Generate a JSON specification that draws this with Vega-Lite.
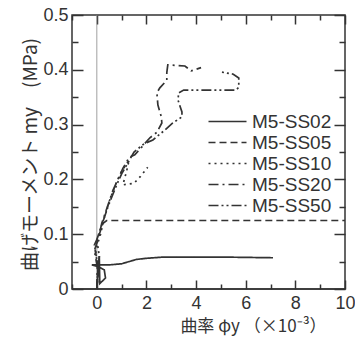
{
  "$schema": "https://vega.github.io/schema/vega-lite/v6.json",
  "width": 273,
  "height": 274,
  "autosize": "none",
  "padding": {"left": 72, "top": 15, "right": 10, "bottom": 55},
  "background": "white",
  "config": {
    "view": {"stroke": "#333", "strokeWidth": 1.5},
    "font": "Liberation Sans"
  },
  "layer": [
    {
      "data": {"values": [{}]},
      "mark": {"type": "rule", "color": "#888", "strokeWidth": 0.8},
      "encoding": {
        "x": {
          "datum": 0, "type": "quantitative",
          "scale": {"domain": [-1, 10], "nice": false, "zero": false},
          "axis": {
            "orient": "top", "values": [-1,0,1,2,3,4,5,6,7,8,9,10],
            "labels": false, "title": null, "domain": false, "grid": false,
            "tickColor": "#333", "tickWidth": 1.5,
            "tickSize": {"condition": {"test": "datum.value % 2 === 0", "value": -9}, "value": -5}
          }
        }
      }
    },
    {
      "data": {"values": [
        {"s":"M5-SS02","o":1,"x":0,"y":0},
        {"s":"M5-SS02","o":2,"x":0.1,"y":0.06},
        {"s":"M5-SS02","o":3,"x":0.12,"y":0.01},
        {"s":"M5-SS02","o":4,"x":0.35,"y":0.02},
        {"s":"M5-SS02","o":5,"x":0.3,"y":0.035},
        {"s":"M5-SS02","o":6,"x":0.1,"y":0.04},
        {"s":"M5-SS02","o":7,"x":-0.2,"y":0.044},
        {"s":"M5-SS02","o":8,"x":0.5,"y":0.044},
        {"s":"M5-SS02","o":9,"x":1.0,"y":0.046},
        {"s":"M5-SS02","o":10,"x":1.3,"y":0.05},
        {"s":"M5-SS02","o":11,"x":1.6,"y":0.054},
        {"s":"M5-SS02","o":12,"x":2.0,"y":0.056},
        {"s":"M5-SS02","o":13,"x":2.6,"y":0.058},
        {"s":"M5-SS02","o":14,"x":4.0,"y":0.058},
        {"s":"M5-SS02","o":15,"x":5.5,"y":0.058},
        {"s":"M5-SS02","o":16,"x":7.1,"y":0.057},
        {"s":"M5-SS05","o":1,"x":0,"y":0},
        {"s":"M5-SS05","o":2,"x":0.05,"y":0.04},
        {"s":"M5-SS05","o":3,"x":-0.1,"y":0.08},
        {"s":"M5-SS05","o":4,"x":0.1,"y":0.1},
        {"s":"M5-SS05","o":5,"x":0.25,"y":0.12},
        {"s":"M5-SS05","o":6,"x":0.4,"y":0.125},
        {"s":"M5-SS05","o":7,"x":10,"y":0.125},
        {"s":"M5-SS10","o":1,"x":0,"y":0},
        {"s":"M5-SS10","o":2,"x":0.05,"y":0.03},
        {"s":"M5-SS10","o":3,"x":-0.05,"y":0.07},
        {"s":"M5-SS10","o":4,"x":0.15,"y":0.1},
        {"s":"M5-SS10","o":5,"x":0.3,"y":0.13},
        {"s":"M5-SS10","o":6,"x":0.5,"y":0.16},
        {"s":"M5-SS10","o":7,"x":0.75,"y":0.19},
        {"s":"M5-SS10","o":8,"x":1.0,"y":0.215},
        {"s":"M5-SS10","o":9,"x":1.3,"y":0.235},
        {"s":"M5-SS10","o":10,"x":1.2,"y":0.215},
        {"s":"M5-SS10","o":11,"x":1.05,"y":0.19},
        {"s":"M5-SS10","o":12,"x":1.5,"y":0.193},
        {"s":"M5-SS10","o":13,"x":1.75,"y":0.205},
        {"s":"M5-SS10","o":14,"x":2.05,"y":0.222},
        {"s":"M5-SS20","o":1,"x":0,"y":0},
        {"s":"M5-SS20","o":2,"x":0.02,"y":0.04},
        {"s":"M5-SS20","o":3,"x":-0.1,"y":0.07},
        {"s":"M5-SS20","o":4,"x":0.05,"y":0.09},
        {"s":"M5-SS20","o":5,"x":0.1,"y":0.1},
        {"s":"M5-SS20","o":6,"x":0.2,"y":0.12},
        {"s":"M5-SS20","o":7,"x":0.35,"y":0.14},
        {"s":"M5-SS20","o":8,"x":0.5,"y":0.16},
        {"s":"M5-SS20","o":9,"x":0.65,"y":0.18},
        {"s":"M5-SS20","o":10,"x":0.85,"y":0.2},
        {"s":"M5-SS20","o":11,"x":1.05,"y":0.22},
        {"s":"M5-SS20","o":12,"x":1.3,"y":0.24},
        {"s":"M5-SS20","o":13,"x":1.53,"y":0.245},
        {"s":"M5-SS20","o":14,"x":1.81,"y":0.259},
        {"s":"M5-SS20","o":15,"x":2.14,"y":0.276},
        {"s":"M5-SS20","o":16,"x":2.42,"y":0.286},
        {"s":"M5-SS20","o":17,"x":2.62,"y":0.303},
        {"s":"M5-SS20","o":18,"x":2.6,"y":0.314},
        {"s":"M5-SS20","o":19,"x":2.46,"y":0.336},
        {"s":"M5-SS20","o":20,"x":2.42,"y":0.358},
        {"s":"M5-SS20","o":21,"x":2.54,"y":0.367},
        {"s":"M5-SS20","o":22,"x":2.82,"y":0.381},
        {"s":"M5-SS20","o":23,"x":2.82,"y":0.395},
        {"s":"M5-SS20","o":24,"x":2.86,"y":0.409},
        {"s":"M5-SS20","o":25,"x":3.55,"y":0.407},
        {"s":"M5-SS20","o":26,"x":3.8,"y":0.398},
        {"s":"M5-SS20","o":27,"x":4.2,"y":0.404},
        {"s":"M5-SS50","o":1,"x":0,"y":0},
        {"s":"M5-SS50","o":2,"x":0.05,"y":0.03},
        {"s":"M5-SS50","o":3,"x":0.1,"y":0.06},
        {"s":"M5-SS50","o":4,"x":0.0,"y":0.09},
        {"s":"M5-SS50","o":5,"x":0.15,"y":0.11},
        {"s":"M5-SS50","o":6,"x":0.3,"y":0.13},
        {"s":"M5-SS50","o":7,"x":0.45,"y":0.15},
        {"s":"M5-SS50","o":8,"x":0.62,"y":0.17},
        {"s":"M5-SS50","o":9,"x":0.8,"y":0.19},
        {"s":"M5-SS50","o":10,"x":1.0,"y":0.21},
        {"s":"M5-SS50","o":11,"x":1.25,"y":0.23},
        {"s":"M5-SS50","o":12,"x":1.5,"y":0.25},
        {"s":"M5-SS50","o":13,"x":1.9,"y":0.265},
        {"s":"M5-SS50","o":14,"x":2.26,"y":0.272},
        {"s":"M5-SS50","o":15,"x":2.74,"y":0.29},
        {"s":"M5-SS50","o":16,"x":3.06,"y":0.303},
        {"s":"M5-SS50","o":17,"x":3.43,"y":0.314},
        {"s":"M5-SS50","o":18,"x":3.43,"y":0.323},
        {"s":"M5-SS50","o":19,"x":3.27,"y":0.345},
        {"s":"M5-SS50","o":20,"x":3.3,"y":0.358},
        {"s":"M5-SS50","o":21,"x":3.5,"y":0.363},
        {"s":"M5-SS50","o":22,"x":5.6,"y":0.363},
        {"s":"M5-SS50","o":23,"x":5.72,"y":0.368},
        {"s":"M5-SS50","o":24,"x":5.72,"y":0.385},
        {"s":"M5-SS50","o":25,"x":5.5,"y":0.392},
        {"s":"M5-SS50","o":26,"x":5.0,"y":0.396}
      ]},
      "mark": {"type": "line", "color": "#333", "strokeWidth": 1.7},
      "encoding": {
        "order": {"field": "o", "type": "quantitative"},
        "x": {
          "field": "x", "type": "quantitative",
          "scale": {"domain": [-1, 10], "nice": false, "zero": false},
          "axis": {
            "orient": "bottom", "values": [-1,0,1,2,3,4,5,6,7,8,9,10],
            "domain": false, "grid": false,
            "tickColor": "#333", "tickWidth": 1.5,
            "tickSize": {"condition": {"test": "datum.value % 2 === 0", "value": -9}, "value": -5},
            "labelExpr": "(datum.value % 2 === 0 && datum.value >= 0) ? datum.label : ''",
            "labelFont": "Liberation Sans", "labelFontSize": 18, "labelColor": "#333",
            "labelPadding": 14, "labelFlush": false, "labelOverlap": false, "labelBound": false,
            "title": "曲率 φy （×10⁻³）",
            "titleFont": "Noto Sans CJK JP", "titleFontSize": 17, "titleFontWeight": "normal", "titleColor": "#333",
            "titleX": 181, "titleY": 37, "titleAlign": "center", "titleBaseline": "middle", "titleAnchor": null
          }
        },
        "y": {
          "field": "y", "type": "quantitative",
          "scale": {"domain": [0, 0.5], "nice": false, "zero": true},
          "axis": {
            "orient": "left", "values": [0,0.05,0.1,0.15,0.2,0.25,0.3,0.35,0.4,0.45,0.5],
            "domain": false, "grid": false,
            "tickColor": "#333", "tickWidth": 1.5,
            "tickSize": {"condition": {"test": "round(datum.value*100) % 10 === 0", "value": -11}, "value": -6},
            "labelExpr": "round(datum.value*100) % 10 === 0 ? (datum.value === 0 ? '0' : format(datum.value, '.1f')) : ''",
            "labelFont": "Liberation Sans", "labelFontSize": 18, "labelColor": "#333",
            "labelPadding": 15, "labelFlush": false, "labelOverlap": false, "labelBound": false,
            "title": "曲げモーメント my　(MPa)",
            "titleFont": "Noto Sans CJK JP", "titleFontSize": 19, "titleFontWeight": "normal", "titleColor": "#333",
            "titleX": -42, "titleY": 139, "titleAngle": -90, "titleAlign": "center", "titleBaseline": "middle", "titleAnchor": null
          }
        },
        "strokeDash": {
          "field": "s", "type": "nominal",
          "scale": {
            "domain": ["M5-SS02","M5-SS05","M5-SS10","M5-SS20","M5-SS50"],
            "range": [[1,0],[7,4],[2,4],[10,4,2,4],[10,3,2,3,2,3]]
          },
          "legend": {
            "orient": "none", "legendX": 145, "legendY": 96, "title": null,
            "symbolType": "M-2,0H2", "symbolSize": 361, "symbolStrokeColor": "#333", "symbolStrokeWidth": 1.7,
            "labelFont": "Liberation Sans", "labelFontSize": 19, "labelColor": "#333",
            "labelOffset": 14, "rowPadding": -1.5
          }
        }
      }
    },
    {
      "data": {"values": [{}]},
      "mark": {"type": "rule", "color": "#333", "strokeWidth": 1.5},
      "encoding": {
        "y": {
          "datum": 0, "type": "quantitative",
          "scale": {"domain": [0, 0.5], "nice": false, "zero": true},
          "axis": {
            "orient": "right", "values": [0,0.05,0.1,0.15,0.2,0.25,0.3,0.35,0.4,0.45,0.5],
            "labels": false, "title": null, "domain": false, "grid": false,
            "tickColor": "#333", "tickWidth": 1.5,
            "tickSize": {"condition": {"test": "round(datum.value*100) % 10 === 0", "value": -11}, "value": -6}
          }
        }
      }
    }
  ],
  "resolve": {"axis": {"x": "independent", "y": "independent"}}
}
